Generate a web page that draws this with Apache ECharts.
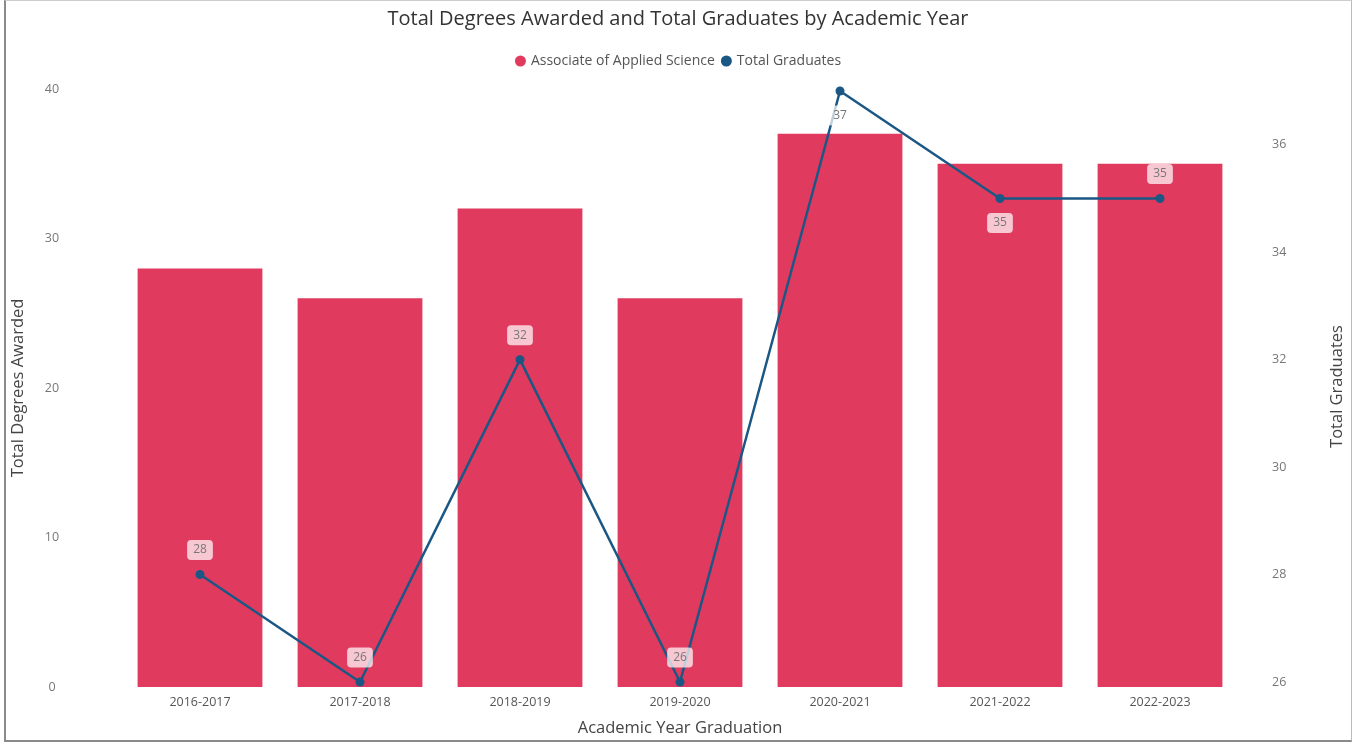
<!DOCTYPE html>
<html>
<head>
<meta charset="utf-8">
<script src="https://cdn.jsdelivr.net/npm/echarts@6/dist/echarts.min.js"></script>
<style>
html,body{margin:0;padding:0;background:#fff;}
#frame{position:absolute;left:4px;top:0;width:1348px;height:742px;border-left:2px solid #8a8a8a;border-bottom:2px solid #8a8a8a;border-right:1px solid #bbb;border-top:1px solid #ccc;box-sizing:border-box;}
#chart{position:absolute;left:0;top:0;width:1356px;height:745px;}
</style>
</head>
<body>
<div id="frame"></div>
<div id="chart"></div>
<script>
const categories = ['2016-2017','2017-2018','2018-2019','2019-2020','2020-2021','2021-2022','2022-2023'];
const degreesAwarded = [28, 26, 32, 26, 37, 35, 35];
const totalGraduates = [28, 26, 32, 26, 37, 35, 35];
const leftTicks = [0, 10, 20, 30, 40];
const rightTicks = [26, 28, 30, 32, 34, 36];

const labelPos = ['top','top','top','top','bottom','bottom','top'];
const font = '"Open Sans", "Noto Sans", sans-serif';

const chart = echarts.init(document.getElementById('chart'));
chart.setOption({
  backgroundColor: 'transparent',
  textStyle: { fontFamily: font },
  title: {
    text: 'Total Degrees Awarded and Total Graduates by Academic Year',
    left: 'center', top: 4,
    textStyle: { fontFamily: font, fontSize: 20, fontWeight: 'normal', color: '#333' }
  },
  legend: {
    top: 49, left: 'center',
    icon: 'circle', itemWidth: 11, itemHeight: 11, itemGap: 6,
    textStyle: { fontFamily: font, fontSize: 14, color: '#555' },
    data: ['Associate of Applied Science', 'Total Graduates']
  },
  grid: [
    { left: 120, right: 116, top: 89, bottom: 58, outerBoundsMode: 'none', containLabel: false },
    { left: 120, right: 116, top: 91, bottom: 63, outerBoundsMode: 'none', containLabel: false }
  ],
  xAxis: [
    {
      type: 'category', data: categories, gridIndex: 0,
      name: 'Academic Year Graduation', nameLocation: 'middle', nameGap: 33,
      nameTextStyle: { fontFamily: font, fontSize: 16.5, color: '#444' },
      axisLine: { show: false }, axisTick: { show: false },
      axisLabel: { fontFamily: font, fontSize: 12.5, color: '#555', margin: 9 }
    },
    {
      type: 'category', data: categories, gridIndex: 1, show: false
    }
  ],
  yAxis: [
    {
      type: 'value', gridIndex: 0, min: leftTicks[0], max: leftTicks[leftTicks.length-1], interval: 10,
      name: 'Total Degrees Awarded', nameLocation: 'middle', nameGap: 93, nameRotate: 90,
      nameTextStyle: { fontFamily: font, fontSize: 16.5, color: '#444' },
      axisLine: { show: false }, axisTick: { show: false }, splitLine: { show: false },
      axisLabel: { fontFamily: font, fontSize: 12.5, color: '#777', margin: 68, align: 'center' }
    },
    {
      type: 'value', gridIndex: 1, position: 'right', min: rightTicks[0], max: 37, interval: 2,
      name: 'Total Graduates', nameLocation: 'middle', nameGap: 89, nameRotate: 90,
      nameTextStyle: { fontFamily: font, fontSize: 16.5, color: '#444' },
      axisLine: { show: false }, axisTick: { show: false }, splitLine: { show: false },
      axisLabel: { fontFamily: font, fontSize: 12.5, color: '#777', margin: 32, showMaxLabel: false }
    }
  ],
  series: [
    {
      name: 'Associate of Applied Science', type: 'bar', xAxisIndex: 0, yAxisIndex: 0,
      data: degreesAwarded, barCategoryGap: '22%',
      itemStyle: { color: '#E03A5E' }
    },
    {
      name: 'Total Graduates', type: 'line', xAxisIndex: 1, yAxisIndex: 1,
      data: totalGraduates.map((v, i) => ({
        value: v,
        label: { position: labelPos[i] }
      })),
      symbol: 'circle', symbolSize: 9,
      lineStyle: { color: '#1B5785', width: 2.5 },
      itemStyle: { color: '#1B5785' },
      label: {
        show: true, fontFamily: font, fontSize: 12, color: '#777',
        backgroundColor: 'rgba(255,255,255,0.72)', borderRadius: 4,
        padding: [4, 6], distance: 10
      },
      z: 5
    }
  ]
});
</script>
</body>
</html>
